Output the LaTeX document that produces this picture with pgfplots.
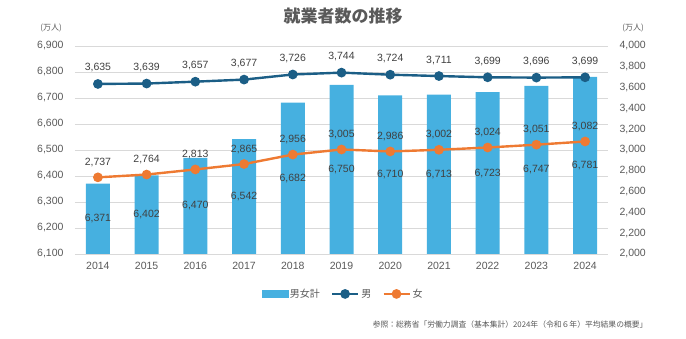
\documentclass[border=0pt]{standalone}
\usepackage{fontspec}
\setmainfont{Liberation Sans}
\newfontfamily\jp{Noto Sans CJK JP}
\usepackage{pgfplots}
\pgfplotsset{compat=1.18}
\usepackage{pgfplotstable}
\definecolor{barc}{HTML}{46B0E0}
\definecolor{manc}{HTML}{1B5E86}
\definecolor{womc}{HTML}{EE7A32}
\definecolor{txt}{HTML}{595959}
\definecolor{lbl}{HTML}{404040}
\definecolor{gridc}{HTML}{D9D9D9}
\pgfkeys{/pgf/number format/.cd,1000 sep={,},fixed}
\pgfplotsset{mylineleg/.style={legend image code/.code={\draw[mark repeat=2,mark phase=2,##1] plot coordinates {(0pt,0pt) (13pt,0pt) (26pt,0pt)};}}}

\pgfplotstableread{
x total men women
0 6371 3635 2737
1 6402 3639 2764
2 6470 3657 2813
3 6542 3677 2865
4 6682 3726 2956
5 6750 3744 3005
6 6710 3724 2986
7 6713 3711 3002
8 6723 3699 3024
9 6747 3696 3051
10 6781 3699 3082
}\data

\begin{document}
\begin{tikzpicture}
\path[use as bounding box] (0pt,0pt) rectangle (686pt,339pt);
\begin{axis}[
  at={(75pt,85pt)}, anchor=south west,
  scale only axis, width=533pt, height=208pt,
  xmin=-0.47, xmax=10.47, ymin=6100, ymax=6900,
  ytick distance=100,
  axis y line*=left, axis x line*=bottom,
  axis line style={draw=none},
  ymajorgrids, grid style={gridc, line width=0.8pt},
  major tick length=0pt,
  xtick={0,...,10},
  xticklabels={2014,2015,2016,2017,2018,2019,2020,2021,2022,2023,2024},
  /pgf/number format/assume math mode=true,
  tick label style={font=\fontsize{10.5}{12}\selectfont, text=txt},
  yticklabel style={xshift=-8pt},
  xticklabel style={yshift=-5pt},
  clip=false,
]
\addplot[ybar, bar width=24pt, fill=barc, draw=none] table[x=x,y=total]{\data};
\addplot[draw=none, mark=none, nodes near coords, point meta=explicit,
  nodes near coords style={anchor=center, font=\fontsize{10.5}{12}\selectfont, text=lbl}]
  table[x=x, y expr={(\thisrow{total}+6100)/2}, meta=total]{\data};
\end{axis}
\begin{axis}[
  at={(75pt,85pt)}, anchor=south west,
  scale only axis, width=533pt, height=208pt,
  xmin=-0.47, xmax=10.47, ymin=2000, ymax=4000,
  ytick distance=200,
  axis y line*=right, axis x line=none,
  axis line style={draw=none},
  major tick length=0pt,
  /pgf/number format/assume math mode=true,
  tick label style={font=\fontsize{10.5}{12}\selectfont, text=txt},
  yticklabel style={xshift=8pt},
  clip=false,
  legend style={draw=none, fill=none, at={(rel axis cs:0.503,-0.192)}, anchor=center,
    legend columns=-1, font=\jp\fontsize{10}{12}\selectfont, text=txt,
    /tikz/every even column/.append style={column sep=9pt},
    inner sep=0pt},
  legend cell align=left,
]
\addlegendimage{legend image code/.code={\fill[barc] (0pt,-3.5pt) rectangle (26pt,3.5pt);}}
\addlegendentry{男女計}
\addplot[manc, line width=2.4pt, mark=*, mark size=3.6pt, mylineleg,
  nodes near coords, point meta=explicit,
  nodes near coords style={anchor=center, yshift=16pt, font=\fontsize{10.5}{12}\selectfont, text=lbl}]
  table[x=x, y=men, meta=men]{\data};
\addlegendentry{男}
\addplot[womc, line width=2.4pt, mark=*, mark size=3.6pt, mylineleg,
  nodes near coords, point meta=explicit,
  nodes near coords style={anchor=center, yshift=15pt, font=\fontsize{10.5}{12}\selectfont, text=lbl}]
  table[x=x, y=women, meta=women]{\data};
\addlegendentry{女}
\end{axis}
\node[font=\jp\bfseries\fontsize{17}{20}\selectfont, text=txt] at (343pt,323pt) {就業者数の推移};
\node[font=\jp\fontsize{8}{9}\selectfont, text=txt] at (51pt,311pt) {(万人)};
\node[font=\jp\fontsize{8}{9}\selectfont, text=txt] at (633pt,311pt) {(万人)};
\node[font=\jp\fontsize{7.8}{9}\selectfont, text=txt, anchor=east] at (651pt,14pt) {参照：総務省「労働力調査（基本集計）2024年（令和６年）平均結果の概要」};
\end{tikzpicture}
\end{document}
